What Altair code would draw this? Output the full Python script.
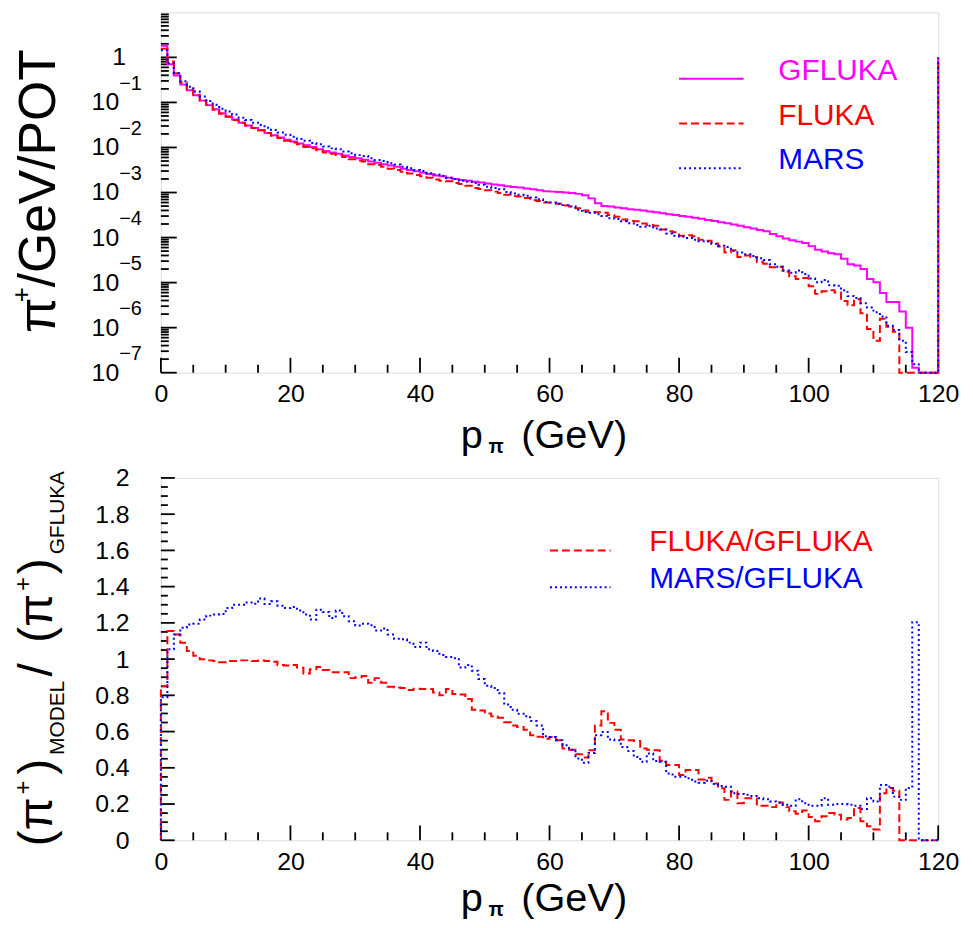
import altair as alt
import pandas as pd

FONT = "Liberation Sans"
MAGENTA = "#ff00ff"
RED = "#ff0000"
BLUE = "#0000ff"

# ---------------- data (1 GeV bins, left edges 0..119, closing edge 120) ----------------
p_edges = list(range(121))

# top panel: log10(pi+/GeV/POT) per bin (-7 = drawn on the bottom frame)
gfluka_log10 = [
    0.26, -0.15, -0.40, -0.60, -0.73, -0.84, -0.96, -1.06, -1.15, -1.24,
    -1.31, -1.38, -1.45, -1.51, -1.57, -1.62, -1.68, -1.73, -1.78, -1.83,
    -1.87, -1.91, -1.95, -1.99, -2.04, -2.08, -2.11, -2.14, -2.18, -2.21,
    -2.24, -2.27, -2.31, -2.34, -2.37, -2.40, -2.43, -2.47, -2.50, -2.53,
    -2.56, -2.59, -2.62, -2.64, -2.67, -2.70, -2.72, -2.74, -2.76, -2.78,
    -2.80, -2.82, -2.84, -2.86, -2.88, -2.89, -2.91, -2.93, -2.95, -2.97,
    -2.98, -2.99, -3.00, -3.01, -3.03, -3.06, -3.13, -3.24, -3.30, -3.31,
    -3.33, -3.35, -3.37, -3.38, -3.40, -3.42, -3.44, -3.46, -3.48, -3.50,
    -3.52, -3.54, -3.56, -3.58, -3.61, -3.63, -3.66, -3.68, -3.71, -3.74,
    -3.77, -3.80, -3.83, -3.86, -3.92, -3.97, -4.02, -4.06, -4.09, -4.12,
    -4.19, -4.27, -4.31, -4.35, -4.37, -4.47, -4.59, -4.62, -4.70, -4.92,
    -4.99, -5.23, -5.43, -5.43, -5.64, -6.00, -6.89, -7.0, -7.0, -7.0,
]
fluka_log10 = [
    0.19, -0.09, -0.35, -0.56, -0.71, -0.83, -0.96, -1.06, -1.16, -1.25,
    -1.32, -1.39, -1.45, -1.51, -1.57, -1.62, -1.68, -1.74, -1.79, -1.85,
    -1.89, -1.93, -1.99, -2.02, -2.06, -2.11, -2.14, -2.17, -2.21, -2.26,
    -2.29, -2.31, -2.37, -2.39, -2.43, -2.47, -2.50, -2.54, -2.58, -2.61,
    -2.64, -2.67, -2.71, -2.74, -2.75, -2.79, -2.81, -2.85, -2.90, -2.92,
    -2.95, -2.98, -3.01, -3.05, -3.08, -3.09, -3.12, -3.17, -3.19, -3.22,
    -3.23, -3.25, -3.29, -3.31, -3.35, -3.40, -3.43, -3.44, -3.45, -3.50,
    -3.54, -3.60, -3.63, -3.64, -3.69, -3.72, -3.74, -3.82, -3.86, -3.88,
    -3.96, -3.95, -3.97, -4.05, -4.07, -4.13, -4.20, -4.33, -4.28, -4.43,
    -4.40, -4.43, -4.55, -4.58, -4.66, -4.65, -4.76, -4.86, -4.92, -4.90,
    -5.08, -5.25, -5.19, -5.17, -5.22, -5.41, -5.50, -5.37, -5.68, -6.03,
    -6.29, -5.80, -5.98, -6.09, -7.0, -7.0, -7.0, -7.0, -7.0, -7.0,
]
mars_log10 = [
    0.16, -0.13, -0.35, -0.53, -0.65, -0.76, -0.87, -0.97, -1.05, -1.14,
    -1.20, -1.27, -1.34, -1.39, -1.45, -1.50, -1.56, -1.61, -1.67, -1.72,
    -1.76, -1.81, -1.85, -1.90, -1.93, -1.98, -2.02, -2.04, -2.09, -2.13,
    -2.17, -2.19, -2.24, -2.28, -2.30, -2.35, -2.38, -2.43, -2.46, -2.50,
    -2.52, -2.57, -2.60, -2.63, -2.67, -2.70, -2.74, -2.76, -2.79, -2.83,
    -2.87, -2.90, -2.93, -2.99, -3.02, -3.05, -3.07, -3.11, -3.15, -3.21,
    -3.22, -3.25, -3.28, -3.31, -3.38, -3.43, -3.45, -3.48, -3.52, -3.57,
    -3.59, -3.64, -3.68, -3.72, -3.76, -3.74, -3.80, -3.82, -3.91, -3.96,
    -3.98, -4.01, -4.05, -4.08, -4.09, -4.14, -4.18, -4.21, -4.30, -4.33,
    -4.37, -4.41, -4.46, -4.50, -4.59, -4.65, -4.73, -4.78, -4.73, -4.81,
    -4.91, -4.99, -4.94, -5.06, -5.07, -5.17, -5.30, -5.34, -5.46, -5.55,
    -5.66, -5.75, -5.96, -6.05, -6.29, -6.54, -6.81, -7.0, -7.0, -7.0,
]
# value at the closing 120 GeV edge (vertical line up to 1 on the right frame)
edge120_log10 = {"GFLUKA": 0.0, "FLUKA": 0.0, "MARS": 0.0}

# bottom panel: ratios per bin
ratio_fluka = [
    0.85, 1.155, 1.136, 1.09, 1.045, 1.018, 0.999, 0.993, 0.989, 0.983,
    0.989, 0.989, 0.993, 0.993, 0.989, 0.993, 0.99, 0.986, 0.968, 0.965,
    0.968, 0.953, 0.92, 0.944, 0.957, 0.94, 0.928, 0.928, 0.928, 0.895,
    0.90, 0.907, 0.87, 0.895, 0.87, 0.847, 0.843, 0.84, 0.83, 0.836,
    0.835, 0.835, 0.816, 0.80, 0.835, 0.807, 0.804, 0.78, 0.72, 0.716,
    0.70, 0.685, 0.676, 0.652, 0.634, 0.625, 0.61, 0.58, 0.571, 0.56,
    0.57, 0.552, 0.507, 0.50, 0.475, 0.457, 0.497, 0.634, 0.712, 0.648,
    0.61, 0.556, 0.552, 0.548, 0.507, 0.50, 0.497, 0.439, 0.415, 0.415,
    0.36, 0.388, 0.388, 0.336, 0.345, 0.314, 0.287, 0.223, 0.269, 0.205,
    0.232, 0.232, 0.19, 0.19, 0.183, 0.209, 0.183, 0.16, 0.147, 0.165,
    0.128, 0.105, 0.132, 0.15, 0.141, 0.114, 0.123, 0.178, 0.105, 0.077,
    0.059, 0.26, 0.289, 0.274, 0.0, 0.0, 0.0, 0.0, 0.0, 0.0,
]
ratio_mars = [
    0.79, 1.054, 1.136, 1.173, 1.191, 1.195, 1.218, 1.24, 1.246, 1.249,
    1.282, 1.30, 1.30, 1.313, 1.306, 1.334, 1.304, 1.319, 1.295, 1.282,
    1.288, 1.268, 1.246, 1.218, 1.273, 1.26, 1.227, 1.268, 1.237, 1.209,
    1.186, 1.195, 1.187, 1.158, 1.169, 1.136, 1.113, 1.109, 1.091, 1.067,
    1.091, 1.054, 1.045, 1.023, 1.012, 1.005, 0.954, 0.967, 0.936, 0.89,
    0.853, 0.84, 0.811, 0.749, 0.72, 0.698, 0.685, 0.658, 0.634, 0.574,
    0.57, 0.552, 0.524, 0.50, 0.452, 0.428, 0.482, 0.58, 0.598, 0.556,
    0.552, 0.515, 0.493, 0.46, 0.433, 0.479, 0.437, 0.433, 0.369, 0.351,
    0.351, 0.342, 0.324, 0.318, 0.329, 0.311, 0.30, 0.296, 0.26, 0.256,
    0.251, 0.245, 0.232, 0.227, 0.214, 0.209, 0.196, 0.19, 0.227, 0.205,
    0.19, 0.19, 0.232, 0.196, 0.20, 0.20, 0.196, 0.19, 0.172, 0.232,
    0.214, 0.305, 0.296, 0.241, 0.223, 0.289, 1.204, 0.0, 0.0, 0.0,
]
ratio_underflow = 0.0
ratio_edge120 = 0.0

# axes / ticks
x_major = [0, 20, 40, 60, 80, 100, 120]
x_minor = [5, 10, 15, 25, 30, 35, 45, 50, 55, 65, 70, 75, 85, 90, 95, 105, 110, 115]
log_major = [1e-7, 1e-6, 1e-5, 1e-4, 1e-3, 1e-2, 1e-1]
log_major_base = ["10", "10", "10", "10", "10", "10", "10"]
log_major_exp = ["\u22127", "\u22126", "\u22125", "\u22124", "\u22123", "\u22122", "\u22121"]
log_one = [1.0]
log_one_label = ["1"]
log_minor = [m * 10.0 ** k for k in range(-7, 1) for m in range(2, 10)]
ratio_major = [0, 0.2, 0.4, 0.6, 0.8, 1, 1.2, 1.4, 1.6, 1.8, 2]
ratio_minor = [round(0.05 * i, 2) for i in range(41) if i % 4]

top_legend = [("GFLUKA", MAGENTA, None), ("FLUKA", RED, [8, 4]), ("MARS", BLUE, [2, 3])]
bottom_legend = [("FLUKA/GFLUKA", RED, [8, 4]), ("MARS/GFLUKA", BLUE, [2, 3])]

# ---------------- geometry ----------------
W = 783
H1 = 363
H2 = 365

dummy = pd.DataFrame({"_": [0]})

xs = alt.Scale(domain=[0, 120], nice=False, zero=False)
ytop = alt.Scale(type="log", domain=[1e-7, 10], nice=False)
yrat = alt.Scale(domain=[0, 2], nice=False, zero=False)

x_axis = alt.Axis(values=x_major, title=None, labelFont=FONT, labelFontSize=25,
                  labelColor="black", labelPadding=9, labelFlush=False,
                  ticks=False, tickSize=0, domain=False, grid=False)
yr_axis = alt.Axis(values=ratio_major, labelExpr="'' + datum.value", title=None,
                   labelFont=FONT, labelFontSize=25, labelColor="black",
                   labelPadding=32, labelFlush=False, ticks=False, tickSize=0,
                   domain=False, grid=False)


def txt(text, x, y, size, angle=0, align="left", baseline="alphabetic", color="black", weight="normal"):
    kw = dict(text=text, fontSize=size, font=FONT, align=align, baseline=baseline,
              color=color, fontWeight=weight)
    if angle:
        kw["angle"] = angle
    return alt.Chart(dummy).mark_text(**kw).encode(x=alt.value(x), y=alt.value(y))


def legend_layers(entries, x1, x2, tx, y0, step, size):
    out = []
    for k, (name, color, dash) in enumerate(entries):
        y = y0 + k * step
        kw = dict(color=color, strokeWidth=2)
        if dash:
            kw["strokeDash"] = dash
        out.append(alt.Chart(dummy).mark_rule(**kw).encode(
            x=alt.value(x1), x2=alt.value(x2), y=alt.value(y)))
        out.append(txt(name, tx, y + 1, size, color=color))
    return out


def step_line(df, color, dash, yscale, yaxis):
    kw = dict(color=color, strokeWidth=2, interpolate="step-after")
    if dash:
        kw["strokeDash"] = dash
    return alt.Chart(df).mark_line(**kw).encode(
        x=alt.X("p:Q", scale=xs, axis=x_axis),
        y=alt.Y("v:Q", scale=yscale, axis=yaxis),
        order=alt.Order("i:Q"),
    )


def x_tick_layers(h):
    maj = alt.Chart(pd.DataFrame({"t": x_major})).mark_rule(color="black", strokeWidth=1.8).encode(
        x=alt.X("t:Q", scale=xs, axis=x_axis), y=alt.value(h), y2=alt.value(h - 15))
    mnr = alt.Chart(pd.DataFrame({"t": x_minor})).mark_rule(color="black", strokeWidth=1.8).encode(
        x=alt.X("t:Q", scale=xs, axis=x_axis), y=alt.value(h), y2=alt.value(h - 8))
    return [maj, mnr]


# ---------------- top panel ----------------
def top_df(vals, edge):
    ys = [10.0 ** v for v in vals] + [10.0 ** edge]
    return pd.DataFrame({"p": p_edges, "v": ys, "i": list(range(len(p_edges)))})


top_layers = []
top_layers += x_tick_layers(H1)
top_layers.append(alt.Chart(pd.DataFrame({"t": log_major + log_one})).mark_rule(color="black", strokeWidth=1.8).encode(
    y=alt.Y("t:Q", scale=ytop, axis=None), x=alt.value(0), x2=alt.value(16)))
top_layers.append(alt.Chart(pd.DataFrame({"t": log_minor})).mark_rule(color="black", strokeWidth=1.8).encode(
    y=alt.Y("t:Q", scale=ytop, axis=None), x=alt.value(0), x2=alt.value(8)))
top_layers.append(step_line(top_df(gfluka_log10, edge120_log10["GFLUKA"]), MAGENTA, None, ytop, None))
top_layers.append(step_line(top_df(fluka_log10, edge120_log10["FLUKA"]), RED, [8, 4], ytop, None))
top_layers.append(step_line(top_df(mars_log10, edge120_log10["MARS"]), BLUE, [2, 3], ytop, None))

lab_df = pd.DataFrame({"t": log_major, "base": log_major_base, "exp": log_major_exp})
top_layers.append(alt.Chart(lab_df).mark_text(font=FONT, fontSize=25, align="right", baseline="middle", color="black").encode(
    y=alt.Y("t:Q", scale=ytop, axis=None), x=alt.value(-42), text="base:N"))
top_layers.append(alt.Chart(lab_df).mark_text(font=FONT, fontSize=20, align="left", baseline="middle", color="black", dy=-19).encode(
    y=alt.Y("t:Q", scale=ytop, axis=None), x=alt.value(-42), text="exp:N"))
top_layers.append(alt.Chart(pd.DataFrame({"t": log_one, "lab": log_one_label})).mark_text(
    font=FONT, fontSize=25, align="right", baseline="middle", color="black").encode(
    y=alt.Y("t:Q", scale=ytop, axis=None), x=alt.value(-35), text="lab:N"))

top_layers += legend_layers(top_legend, 522, 587, 622, 67, 45, 30)

# y title  pi^+/GeV/POT
top_layers.append(txt("\u03c0", -107, 323, 52, angle=270))
top_layers.append(txt("+", -132, 292, 26, angle=270))
top_layers.append(txt("/GeV/POT", -107, 277, 52, angle=270))
# x title  p_pi (GeV)
top_layers.append(txt("p", 302, H1 + 76, 40))
top_layers.append(txt("\u03c0", 330, H1 + 81, 20, weight="bold"))
top_layers.append(txt("(GeV)", 363, H1 + 76, 40))

top = alt.layer(*top_layers).properties(width=W, height=H1)

# ---------------- bottom panel ----------------
def ratio_df(vals):
    xs_ = [0] + p_edges
    ys = [ratio_underflow] + vals + [ratio_edge120]
    return pd.DataFrame({"p": xs_, "v": ys, "i": list(range(len(xs_)))})


bot_layers = []
bot_layers += x_tick_layers(H2)
bot_layers.append(alt.Chart(pd.DataFrame({"t": ratio_major})).mark_rule(color="black", strokeWidth=1.8).encode(
    y=alt.Y("t:Q", scale=yrat, axis=yr_axis), x=alt.value(0), x2=alt.value(14)))
bot_layers.append(alt.Chart(pd.DataFrame({"t": ratio_minor})).mark_rule(color="black", strokeWidth=1.8).encode(
    y=alt.Y("t:Q", scale=yrat, axis=yr_axis), x=alt.value(0), x2=alt.value(7)))
bot_layers.append(step_line(ratio_df(ratio_fluka), RED, [8, 4], yrat, yr_axis))
bot_layers.append(step_line(ratio_df(ratio_mars), BLUE, [2, 3], yrat, yr_axis))

bot_layers += legend_layers(bottom_legend, 392, 453, 492, 73, 37, 30)

# y title (pi+)_MODEL/(pi+)_GFLUKA
bot_layers.append(txt("(\u03c0", -110, 371, 48, angle=270))
bot_layers.append(txt("+", -131, 319, 24, angle=270))
bot_layers.append(txt(")", -110, 299, 48, angle=270))
bot_layers.append(txt("MODEL", -98, 279, 21, angle=270))
bot_layers.append(txt("/", -110, 200, 48, angle=270))
bot_layers.append(txt("(\u03c0", -110, 166, 48, angle=270))
bot_layers.append(txt("+", -131, 114, 24, angle=270))
bot_layers.append(txt(")", -110, 97, 48, angle=270))
bot_layers.append(txt("GFLUKA", -98, 77, 21, angle=270))
# x title
bot_layers.append(txt("p", 302, H2 + 71, 40))
bot_layers.append(txt("\u03c0", 330, H2 + 76, 20, weight="bold"))
bot_layers.append(txt("(GeV)", 363, H2 + 71, 40))

bottom = alt.layer(*bot_layers).properties(width=W, height=H2)

chart = alt.vconcat(top, bottom, spacing=7).properties(
    padding={"left": 0, "top": 0, "right": 5, "bottom": 5}
).configure_view(stroke="black", strokeWidth=2).configure(font=FONT)

chart.save("out.html", embed_options={"renderer": "svg", "actions": False})
